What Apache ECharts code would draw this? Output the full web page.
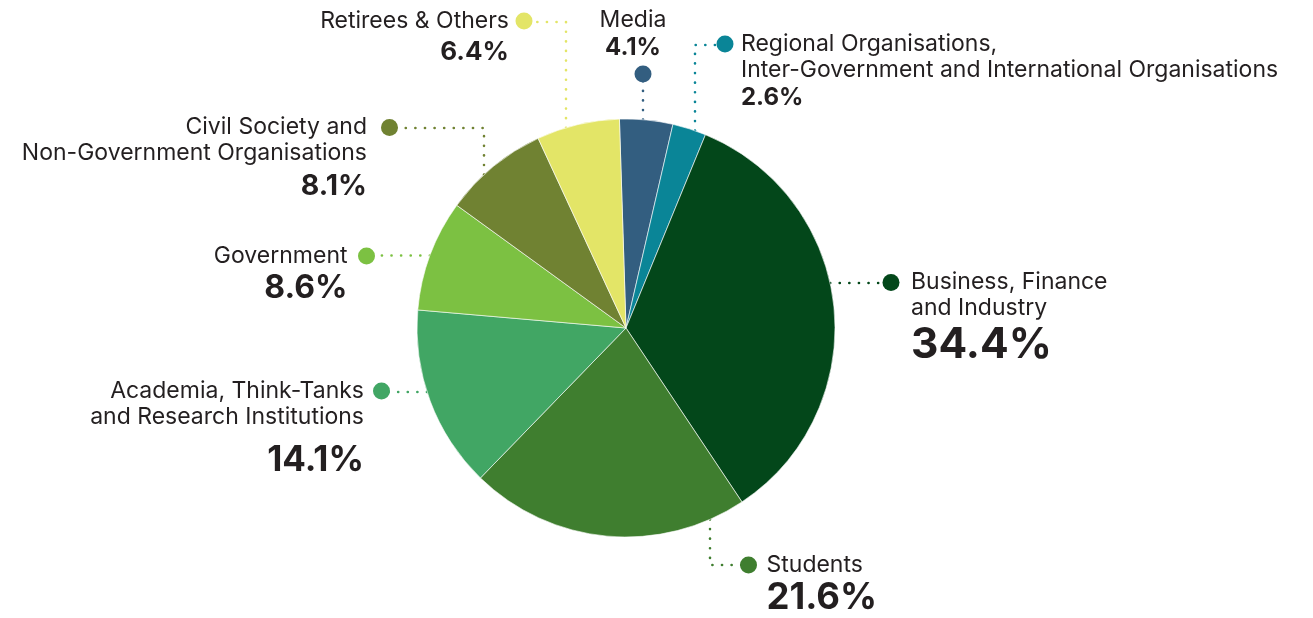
<!DOCTYPE html>
<html>
<head>
<meta charset="utf-8">
<script src="https://cdn.jsdelivr.net/npm/echarts@6/dist/echarts.min.js"></script>
<style>
  html, body { margin: 0; padding: 0; background: #fff; }
  #chart { width: 1313px; height: 618px; }
</style>
</head>
<body>
<div id="chart"></div>
<script>
  // 数据
  const categories = [
    'Media',
    'Regional Organisations,\nInter-Government and International Organisations',
    'Business, Finance\nand Industry',
    'Students',
    'Academia, Think-Tanks\nand Research Institutions',
    'Government',
    'Civil Society and\nNon-Government Organisations',
    'Retirees & Others'
  ]
  const shares = [4.1, 2.6, 34.4, 21.6, 14.1, 8.6, 8.1, 6.4]
  const colors = ['#335e80', '#0a8597', '#03471a', '#3f7e2f', '#41a664', '#7cc142', '#708232', '#e3e567']

  // 饼图与标注布局
  const CX = 626
  const CY = 328
  const R = 209
  const spots = [
    { dot: [643, 74], bendX: 643, align: 'center', x: 633, top: 7.5, gap: 0, pctSize: 24, pctLh: 28, dotBelow: true },
    { dot: [725, 45], bendX: 695, align: 'left', x: 716.5, top: 31, gap: 7.5, pctSize: 24, pctLh: 30 },
    { dot: [891, 283], align: 'left', x: 882.5, top: 269.5, gap: 11.5, pctSize: 42.5, pctLh: 48 },
    { dot: [748.5, 565], bendX: 710, align: 'left', x: 740, top: 552, gap: 9.5, pctSize: 36.5, pctLh: 41 },
    { dot: [381.5, 392], align: 'right', x: 390, top: 378, gap: 9, pctSize: 35, pctLh: 60 },
    { dot: [366.5, 255.5], align: 'right', x: 375, top: 243, gap: 10.5, pctSize: 32, pctLh: 39 },
    { dot: [389.5, 128], bendX: 484, align: 'right', x: 398, top: 114.5, gap: 14, pctSize: 28.5, pctLh: 40 },
    { dot: [524, 22], bendX: 566, align: 'right', x: 532.5, top: 8, gap: 6.5, pctSize: 26, pctLh: 36 }
  ]

  const textColor = '#231f20'
  const rich = {
    n: { fontFamily: 'Inter', fontSize: 23, lineHeight: 26, color: textColor },
    m: { width: 20, height: 1, lineHeight: 1 }
  }
  spots.forEach((s, i) => {
    rich['d' + i] = { width: 17, height: 17, borderRadius: 8.5, backgroundColor: colors[i], lineHeight: s.dotBelow ? 25 : 17 }
    rich['g' + i] = { width: s.gap, height: 1, lineHeight: 1 }
    rich['s' + i] = { width: s.gap + 17, height: 1, lineHeight: 1 }
    rich['p' + i] = { fontFamily: 'Inter', fontWeight: 'bold', fontSize: s.pctSize, lineHeight: s.pctLh, color: textColor }
  })

  const formatLabel = (p) => {
    const i = p.dataIndex
    const s = spots[i]
    const lines = categories[i].split('\n')
    const pct = shares[i].toFixed(1) + '%'
    if (s.dotBelow) {
      return lines.map((l) => `{n|${l}}`).join('\n') + `\n{p${i}|${pct}}\n{m|}{d${i}|}`
    }
    if (s.align === 'left') {
      return lines.map((l, k) => (k === 0 ? `{d${i}|}{g${i}|}` : `{s${i}|}`) + `{n|${l}}`).join('\n') +
        `\n{s${i}|}{p${i}|${pct}}`
    }
    return lines.map((l, k) => `{n|${l}}` + (k === 0 ? `{g${i}|}{d${i}|}` : `{s${i}|}`)).join('\n') +
      `\n{p${i}|${pct}}{s${i}|}`
  }

  // 引导线：从饼图边缘出发，折线连到圆点
  const leaderPoints = (s) => {
    const [dx, dy] = s.dot
    if (s.bendX != null) {
      const off = Math.sqrt(R * R - (s.bendX - CX) ** 2)
      const sy = dy < CY ? CY - off : CY + off
      return [[s.bendX, sy], [s.bendX, dy], [dx, dy]]
    }
    const off = Math.sqrt(R * R - (dy - CY) ** 2)
    const sx = dx > CX ? CX + off : CX - off
    return [[sx, dy], [(sx + dx) / 2, dy], [dx, dy]]
  }

  const chart = echarts.init(document.getElementById('chart'))
  chart.setOption({
    animation: false,
    series: [
      {
        type: 'pie',
        center: [CX, CY],
        radius: R,
        startAngle: 91.8,
        clockwise: true,
        avoidLabelOverlap: false,
        data: categories.map((name, i) => ({
          name,
          value: shares[i],
          itemStyle: { color: colors[i] }
        })),
        itemStyle: { borderColor: '#ffffff', borderWidth: 0.6 },
        label: {
          show: true,
          position: 'outside',
          formatter: formatLabel,
          rich
        },
        labelLine: {
          show: true,
          smooth: false,
          lineStyle: { width: 2.6, type: [0.1, 9.5], cap: 'round' }
        },
        labelLayout: (p) => {
          const s = spots[p.dataIndex]
          return {
            x: s.x,
            y: s.top,
            align: s.align,
            verticalAlign: 'top',
            labelLinePoints: leaderPoints(s)
          }
        },
        emphasis: { disabled: true }
      }
    ]
  })
</script>
</body>
</html>
